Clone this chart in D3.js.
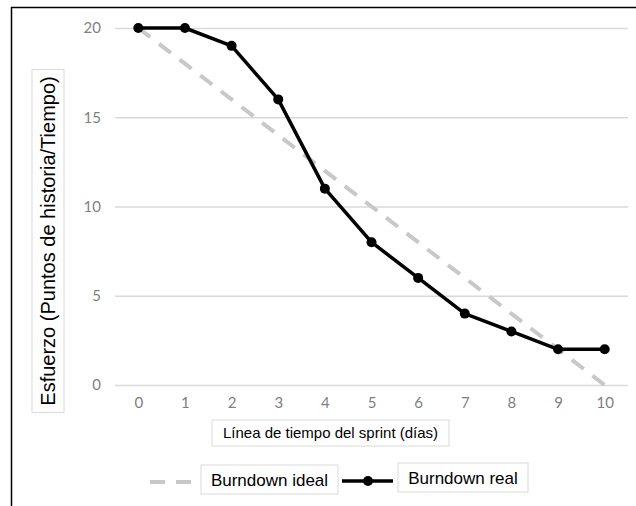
<!DOCTYPE html>
<html>
<head>
<meta charset="utf-8">
<script src="https://cdn.jsdelivr.net/npm/d3@7"></script>
<style>
  body { margin: 0; background: #fff; }
  svg { display: block; }
</style>
</head>
<body>
<div id="chart"></div>
<script>
// sprint burndown data
var days = [0, 1, 2, 3, 4, 5, 6, 7, 8, 9, 10];
var idealValues = [20, 18, 16, 14, 12, 10, 8, 6, 4, 2, 0];
var realValues = [20, 20, 19, 16, 11, 8, 6, 4, 3, 2, 2];
var yTicks = [0, 5, 10, 15, 20];
var yTitle = "Esfuerzo (Puntos de historia/Tiempo)";
var xTitle = "Línea de tiempo del sprint (días)";
var legendLabels = ["Burndown ideal", "Burndown real"];

var w = 636, h = 506;
var p = {"top": 28, "right": 8, "left": 115, "bot": 121};

var svg = d3.select("#chart").append("svg")
  .attr("width", w)
  .attr("height", h);

// frame lines (top and left only)
svg.append("line")
  .attr("x1", 11).attr("x2", w).attr("y1", 7.5).attr("y2", 7.5)
  .style("stroke", "#000").style("stroke-width", 1.5);
svg.append("line")
  .attr("x1", 11.5).attr("x2", 11.5).attr("y1", 7).attr("y2", h)
  .style("stroke", "#000").style("stroke-width", 1.5);

var xScale = d3.scalePoint()
  .domain(days)
  .range([p.left, w - p.right])
  .padding(0.5);

var yScale = d3.scaleLinear()
  .domain([0, 20])
  .range([h - p.bot, p.top]);

// gridlines
var yAxis = d3.axisLeft(yScale).tickValues(yTicks).tickSize(-(w - p.right - p.left)).tickPadding(14);
var gy = svg.append("g")
  .attr("transform", "translate(" + p.left + ",0)")
  .call(yAxis);
gy.select(".domain").remove();
gy.selectAll("line").style("stroke", "#d9d9d9").style("stroke-width", 1.5);
gy.selectAll("text")
  .style("font-family", "Lato, 'Open Sans', sans-serif")
  .style("font-size", "15px")
  .style("fill", "#7f7f7f");

var xAxis = d3.axisBottom(xScale).tickSize(0).tickPadding(12);
var gx = svg.append("g")
  .attr("transform", "translate(0," + (h - p.bot) + ")")
  .call(xAxis);
gx.select(".domain").remove();
gx.selectAll("text")
  .style("font-family", "Lato, 'Open Sans', sans-serif")
  .style("font-size", "15px")
  .style("fill", "#7f7f7f");

var idealData = days.map(function(d, i){ return {x: d, y: idealValues[i]}; });
var realData = days.map(function(d, i){ return {x: d, y: realValues[i]}; });

var line = d3.line()
  .x(function(d){ return xScale(d.x); })
  .y(function(d){ return yScale(d.y); });

svg.append("path")
  .datum(idealData)
  .attr("d", line)
  .style("fill", "none")
  .style("stroke", "#c8c8c8")
  .style("stroke-width", 4)
  .style("stroke-dasharray", "15,11");

svg.append("path")
  .datum(realData)
  .attr("d", line)
  .style("fill", "none")
  .style("stroke", "#000")
  .style("stroke-width", 3.5)
  .style("stroke-linejoin", "round");

svg.selectAll(".dot")
  .data(realData)
  .enter()
    .append("circle")
      .attr("class", "dot")
      .attr("cx", function(d){ return xScale(d.x); })
      .attr("cy", function(d){ return yScale(d.y); })
      .attr("r", 5)
      .style("fill", "#000");

// boxed label helper
function boxLabel(x, y, bw, bh, txt, size, rotate) {
  var g = svg.append("g")
    .attr("transform", "translate(" + x + "," + y + ")" + (rotate ? " rotate(-90)" : ""));
  g.append("rect")
    .attr("x", -bw / 2).attr("y", -bh / 2)
    .attr("width", bw).attr("height", bh)
    .style("fill", "#fff")
    .style("stroke", "#d9d9d9")
    .style("stroke-width", 1);
  g.append("text")
    .attr("text-anchor", "middle")
    .attr("dy", "0.36em")
    .style("font-family", "'Liberation Sans', Arial, sans-serif")
    .style("font-size", size + "px")
    .style("fill", "#000")
    .text(txt);
  return g;
}

boxLabel(48, 241, 343, 32, yTitle, 20, true);
boxLabel(330.5, 433, 237, 26, xTitle, 15, false);

// legend
svg.append("line")
  .attr("x1", 150).attr("x2", 199).attr("y1", 482).attr("y2", 482)
  .style("stroke", "#c8c8c8").style("stroke-width", 4)
  .style("stroke-dasharray", "15,11");
boxLabel(269.5, 479.5, 137, 29, legendLabels[0], 17, false);

svg.append("line")
  .attr("x1", 342).attr("x2", 393).attr("y1", 481).attr("y2", 481)
  .style("stroke", "#000").style("stroke-width", 3.5);
svg.append("circle")
  .attr("cx", 368).attr("cy", 481).attr("r", 5)
  .style("fill", "#000");
boxLabel(463, 477.5, 130, 29, legendLabels[1], 17, false);
</script>
</body>
</html>
